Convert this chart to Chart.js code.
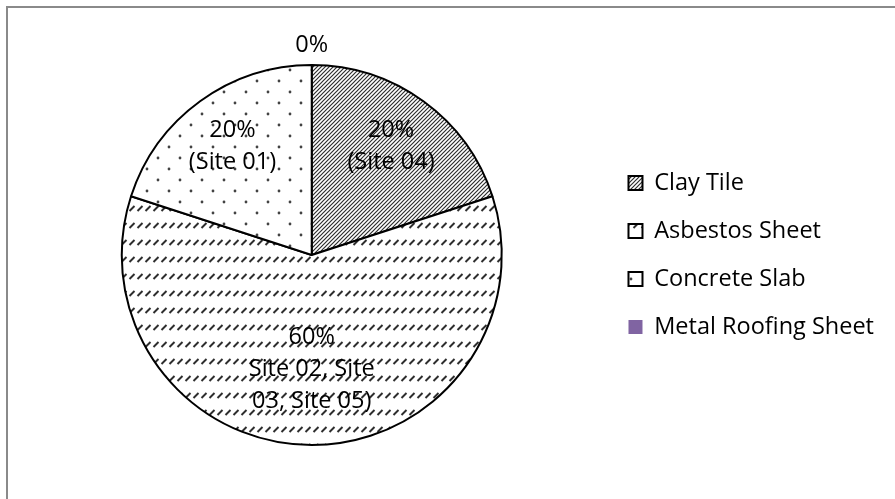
<!DOCTYPE html>
<html>
<head>
<meta charset="utf-8">
<title>Roofing material by site</title>
<script src="https://cdn.jsdelivr.net/npm/chart.js@4.4.1/dist/chart.umd.min.js"></script>
<style>
  html, body { margin: 0; padding: 0; background: #fff; }
  #wrap { width: 895px; height: 499px; position: relative; }
</style>
</head>
<body>
<div id="wrap"><canvas id="roofChart"></canvas></div>
<script>
// share of sites per roofing material (%)
const roofTypes = ['Clay Tile', 'Asbestos Sheet', 'Concrete Slab', 'Metal Roofing Sheet'];
const roofShare = [20, 60, 20, 0];
const siteNotes = [['(Site 04)'], ['Site 02, Site', '03, Site 05)'], ['(Site 01)'], []];

const FONT = 'Open Sans';
const FONT_SIZE = 23.5;
const INK = '#2e2e2e';

const canvas = document.getElementById('roofChart');
const mainCtx = canvas.getContext('2d');

// small repeating tiles used as slice fills
function makePattern(w, h, paint) {
  const c = document.createElement('canvas');
  c.width = w;
  c.height = h;
  const g = c.getContext('2d');
  g.fillStyle = '#fff';
  g.fillRect(0, 0, w, h);
  g.strokeStyle = INK;
  g.fillStyle = INK;
  paint(g, w, h);
  return mainCtx.createPattern(c, 'repeat');
}

const clayFill = makePattern(4, 4, (g, s) => {
  g.lineWidth = 1.2;
  g.beginPath();
  g.moveTo(0, s); g.lineTo(s, 0);
  g.moveTo(-1, 1); g.lineTo(1, -1);
  g.moveTo(s - 1, s + 1); g.lineTo(s + 1, s - 1);
  g.stroke();
});

// rows of short upward dashes
const asbestosFill = makePattern(8, 17, (g) => {
  g.lineWidth = 1.9;
  g.beginPath();
  g.moveTo(1.5, 7); g.lineTo(6.5, 2);
  g.stroke();
});

const concreteFill = makePattern(22, 22, (g) => {
  g.globalAlpha = 0.9;
  g.beginPath();
  g.arc(4, 4, 1.4, 0, Math.PI * 2);
  g.arc(15, 15, 1.4, 0, Math.PI * 2);
  g.fill();
});

const metalFill = '#8064A2';
const sliceFills = [clayFill, asbestosFill, concreteFill, metalFill];

// thin grey frame around the chart object
const chartFrame = {
  id: 'chartFrame',
  beforeDraw(chart) {
    const { ctx } = chart;
    ctx.save();
    ctx.strokeStyle = '#8a8a8a';
    ctx.lineWidth = 2;
    ctx.beginPath();
    ctx.moveTo(7, chart.height + 5);
    ctx.lineTo(7, 7);
    ctx.lineTo(chart.width + 5, 7);
    ctx.stroke();
    ctx.restore();
  }
};

// percentage + site names written on each slice
const sliceLabels = {
  id: 'sliceLabels',
  afterDatasetsDraw(chart, args, opts) {
    const { ctx } = chart;
    const meta = chart.getDatasetMeta(0);
    const total = roofShare.reduce((a, b) => a + b, 0);
    ctx.save();
    ctx.font = `${opts.size}px "${opts.family}"`;
    ctx.fillStyle = '#000';
    ctx.textAlign = 'center';
    ctx.textBaseline = 'middle';
    meta.data.forEach((arc, i) => {
      const { x, y, startAngle, endAngle, outerRadius } =
        arc.getProps(['x', 'y', 'startAngle', 'endAngle', 'outerRadius'], true);
      const mid = (startAngle + endAngle) / 2;
      const r = roofShare[i] === 0 ? outerRadius + opts.outside : outerRadius * opts.inside[i];
      const lines = [Math.round(roofShare[i] / total * 100) + '%', ...siteNotes[i]];
      const cx = x + Math.cos(mid) * r;
      const top = y + Math.sin(mid) * r - (lines.length - 1) * opts.lineHeight / 2;
      lines.forEach((t, k) => ctx.fillText(t, cx, top + k * opts.lineHeight));
    });
    ctx.restore();
  }
};

new Chart(canvas, {
  type: 'pie',
  data: {
    labels: roofTypes,
    datasets: [{
      data: roofShare,
      backgroundColor: sliceFills,
      borderColor: '#000',
      borderWidth: 2,
      hoverOffset: 0
    }]
  },
  options: {
    responsive: true,
    maintainAspectRatio: false,
    animation: false,
    events: [],
    layout: { padding: { top: 64, bottom: 53, left: 19.5, right: 11 } },
    plugins: {
      tooltip: { enabled: false },
      legend: {
        position: 'right',
        labels: {
          boxWidth: 14,
          boxHeight: 14,
          padding: 24.5,
          color: '#000',
          font: { family: FONT, size: FONT_SIZE },
          generateLabels(chart) {
            const items = Chart.overrides.pie.plugins.legend.labels.generateLabels(chart);
            return items.map((item, i) => Object.assign(item, {
              fillStyle: sliceFills[i],
              strokeStyle: i === 3 ? metalFill : '#000',
              lineWidth: i === 3 ? 0 : 2
            }));
          }
        }
      },
      sliceLabels: {
        family: FONT,
        size: FONT_SIZE,
        lineHeight: 32,
        inside: [0.71, 0.6, 0.71, 0],
        outside: 20
      }
    }
  },
  plugins: [chartFrame, sliceLabels]
});
</script>
</body>
</html>
